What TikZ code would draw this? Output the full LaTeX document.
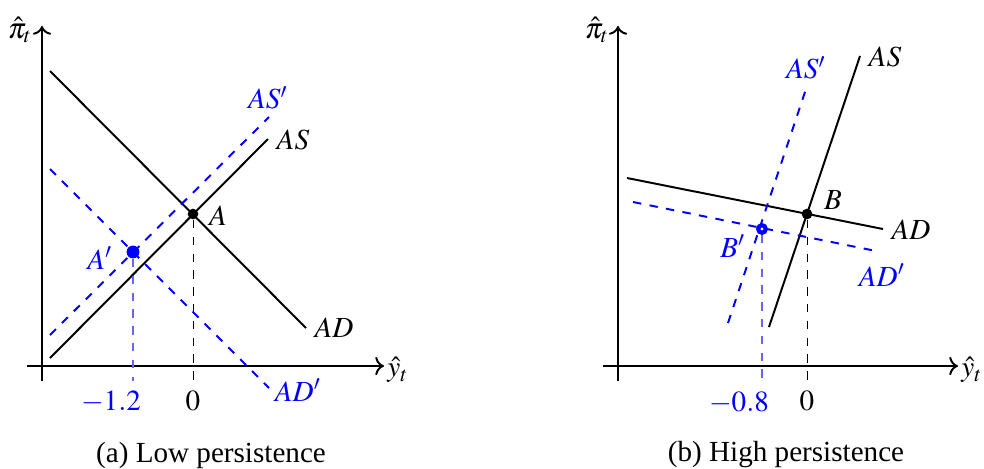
\documentclass[tikz,border=0pt]{standalone}
\usepackage{mathptmx}
\usepackage[no-math]{fontspec}
\setmainfont{Liberation Serif}
\usetikzlibrary{arrows.meta}

\begin{document}
\begin{tikzpicture}[
  x=0.357pt,y=-0.357pt,
  font=\fontsize{10.4}{12.5}\selectfont,
  axis/.style={->,line width=0.7pt},
  curve/.style={line width=0.7pt},
  shifted/.style={line width=0.7pt,blue,dashed},
  guide/.style={dashed,line width=0.35pt},
  shguide/.style={dashed,line width=0.5pt,blue!60},
  eqpt/.style={circle,fill=black,inner sep=0pt,minimum size=3.8pt},
  newpt/.style={circle,fill=blue,inner sep=0pt,minimum size=4.6pt},
  ringpt/.style={circle,draw=blue,fill=white,line width=1.5pt,inner sep=0pt,minimum size=2.7pt}]
\useasboundingbox (0,0) rectangle (984,468);

% (a) low persistence
\coordinate (ya0) at (42,381);  \coordinate (ya1) at (42,26);
\coordinate (xa0) at (27,366);  \coordinate (xa1) at (384,366);
\draw[axis] (ya0) -- (ya1);
\draw[axis] (xa0) -- (xa1);
\node (pia) at (20,30) {$\hat\pi_t$};
\node (yha) at (398,370) {$\hat y_t$};

\coordinate (ad0) at (50,71);   \coordinate (ad1) at (306,328);
\coordinate (as0) at (50,358);  \coordinate (as1) at (268,139);
\coordinate (asp0) at (50,335); \coordinate (asp1) at (269,117);
\coordinate (adp0) at (50,169); \coordinate (adp1) at (269,388);
\draw[curve] (ad0) -- (ad1);
\draw[curve] (as0) -- (as1);
\draw[shifted] (asp0) -- (asp1);
\draw[shifted] (adp0) -- (adp1);
\node (adla) at (334,328) {$AD$};
\node (asla) at (293,140) {$AS$};
\node[blue] (aspla) at (268,98) {$AS'$};
\node[blue] (adpla) at (298,390) {$AD'$};

\node[eqpt] (A) at (193,214) {};
\node[newpt] (Ap) at (133,252) {};
\node (Ala) at (218,216) {$A$};
\node[blue] (Apla) at (100,258) {$A'$};
\coordinate (Aax) at (193,381);
\coordinate (Apax) at (133,381);
\draw[guide] (A) -- (Aax);
\draw[shguide] (Ap) -- (Apax);
\node (zeroa) at (193,401) {$0$};
\node[blue] (tka) at (111,402) {$-1.2$};
\node (capa) at (211,455) {(a) Low persistence};

% (b) high persistence
\coordinate (yb0) at (618,381); \coordinate (yb1) at (618,26);
\coordinate (xb0) at (603,366); \coordinate (xb1) at (958,366);
\draw[axis] (yb0) -- (yb1);
\draw[axis] (xb0) -- (xb1);
\node (pib) at (597,30) {$\hat\pi_t$};
\node (yhb) at (972,370) {$\hat y_t$};

\coordinate (bd0) at (627,178);  \coordinate (bd1) at (883,229);
\coordinate (bs0) at (769,327);  \coordinate (bs1) at (860,56);
\coordinate (bsp0) at (728,323); \coordinate (bsp1) at (806,89);
\coordinate (bdp0) at (633,202); \coordinate (bdp1) at (876,251);
\draw[curve] (bd0) -- (bd1);
\draw[curve] (bs0) -- (bs1);
\draw[shifted] (bsp0) -- (bsp1);
\draw[shifted] (bdp0) -- (bdp1);
\node (adlb) at (911,230) {$AD$};
\node (aslb) at (885,57) {$AS$};
\node[blue] (asplb) at (806,68) {$AS'$};
\node[blue] (adplb) at (882,275) {$AD'$};

\node[eqpt] (B) at (807,214) {};
\node[ringpt] (Bp) at (762,229) {};
\node (Bla) at (833,200) {$B$};
\node[blue] (Bpla) at (733,246) {$B'$};
\coordinate (Bax) at (807,381);
\coordinate (Bpax) at (762,381);
\draw[guide] (B) -- (Bax);
\draw[shguide] (Bp) -- (Bpax);
\node (zerob) at (807,401) {$0$};
\node[blue] (tkb) at (739,403) {$-0.8$};
\node (capb) at (786,455) {(b) High persistence};
\end{tikzpicture}
\end{document}
